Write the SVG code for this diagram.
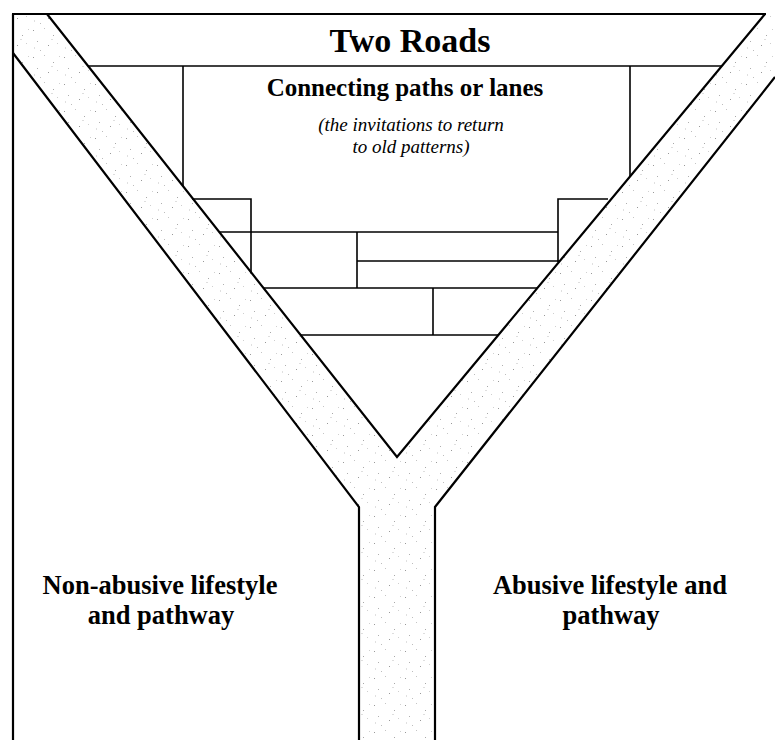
<svg xmlns="http://www.w3.org/2000/svg" width="775" height="740" viewBox="0 0 775 740">
<style>
.road{fill:url(#stip);stroke:none}
.edge{fill:none;stroke:#000;stroke-width:2.2;stroke-linejoin:miter}
.brick{fill:none;stroke:#000;stroke-width:1.6}
.t{font-family:"Liberation Serif","Times New Roman",serif;fill:#000;text-anchor:middle}
.b{font-weight:bold}
.i{font-style:italic}
</style>
<defs>
<pattern id="stip" width="31" height="27" patternUnits="userSpaceOnUse">
<rect width="31" height="27" fill="#fff"/>
<rect x="2" y="3" width="1" height="1" fill="#9a9a9a"/>
<rect x="13" y="1" width="1" height="1" fill="#c5c5c5"/>
<rect x="22" y="8" width="1" height="1" fill="#a9a9a9"/>
<rect x="28" y="2" width="1" height="1" fill="#d0d0d0"/>
<rect x="6" y="14" width="1" height="1" fill="#b0b0b0"/>
<rect x="17" y="18" width="1" height="1" fill="#999"/>
<rect x="26" y="16" width="1" height="1" fill="#cfcfcf"/>
<rect x="9" y="23" width="1" height="1" fill="#bdbdbd"/>
<rect x="20" y="12" width="2" height="1" fill="#dedede"/>
<rect x="3" y="20" width="1" height="2" fill="#e0e0e0"/>
</pattern>
</defs>
<g id="roads">
<polygon class="road" points="13,14 47,14 397,457 765,14 775,14 775,77 435,507 435,740 359,740 359,507 13,53"/>
<polyline class="edge" points="47,14 397,457 765,14"/>
<polyline class="edge" points="13,53 359,507 359,740"/>
<polyline class="edge" points="775,77 435,507 435,740"/>
</g>
<g id="frame">
<line class="edge" x1="13" y1="14" x2="13" y2="740"/>
<line class="edge" x1="12" y1="14" x2="766" y2="14"/>
<line class="brick" x1="88" y1="66" x2="722" y2="66"/>
</g>
<g id="title">
<text class="t b" x="410" y="52" font-size="34">Two Roads</text>
</g>
<g id="connecting-paths">
<polyline class="brick" points="183,66 183,186"/>
<polyline class="brick" points="630,66 630,176"/>
<polyline class="brick" points="192,199 251,199 251,273"/>
<polyline class="brick" points="608,199 558,199 558,262"/>
<line class="brick" x1="219" y1="232" x2="558" y2="232"/>
<line class="brick" x1="357" y1="232" x2="357" y2="288"/>
<line class="brick" x1="357" y1="261" x2="560" y2="261"/>
<line class="brick" x1="264" y1="288" x2="537" y2="288"/>
<line class="brick" x1="433" y1="288" x2="433" y2="335"/>
<line class="brick" x1="301" y1="335" x2="498" y2="335"/>
<text class="t b" x="405" y="96" font-size="25">Connecting paths or lanes</text>
<text class="t i" x="411" y="131" font-size="19">(the invitations to return</text>
<text class="t i" x="411" y="153" font-size="19">to old patterns)</text>
</g>
<g id="non-abusive">
<text class="t b" x="160" y="594" font-size="26.5">Non-abusive lifestyle</text>
<text class="t b" x="161" y="624" font-size="26.5">and pathway</text>
</g>
<g id="abusive">
<text class="t b" x="610" y="594" font-size="26.5">Abusive lifestyle and</text>
<text class="t b" x="611" y="624" font-size="26.5">pathway</text>
</g>
</svg>
